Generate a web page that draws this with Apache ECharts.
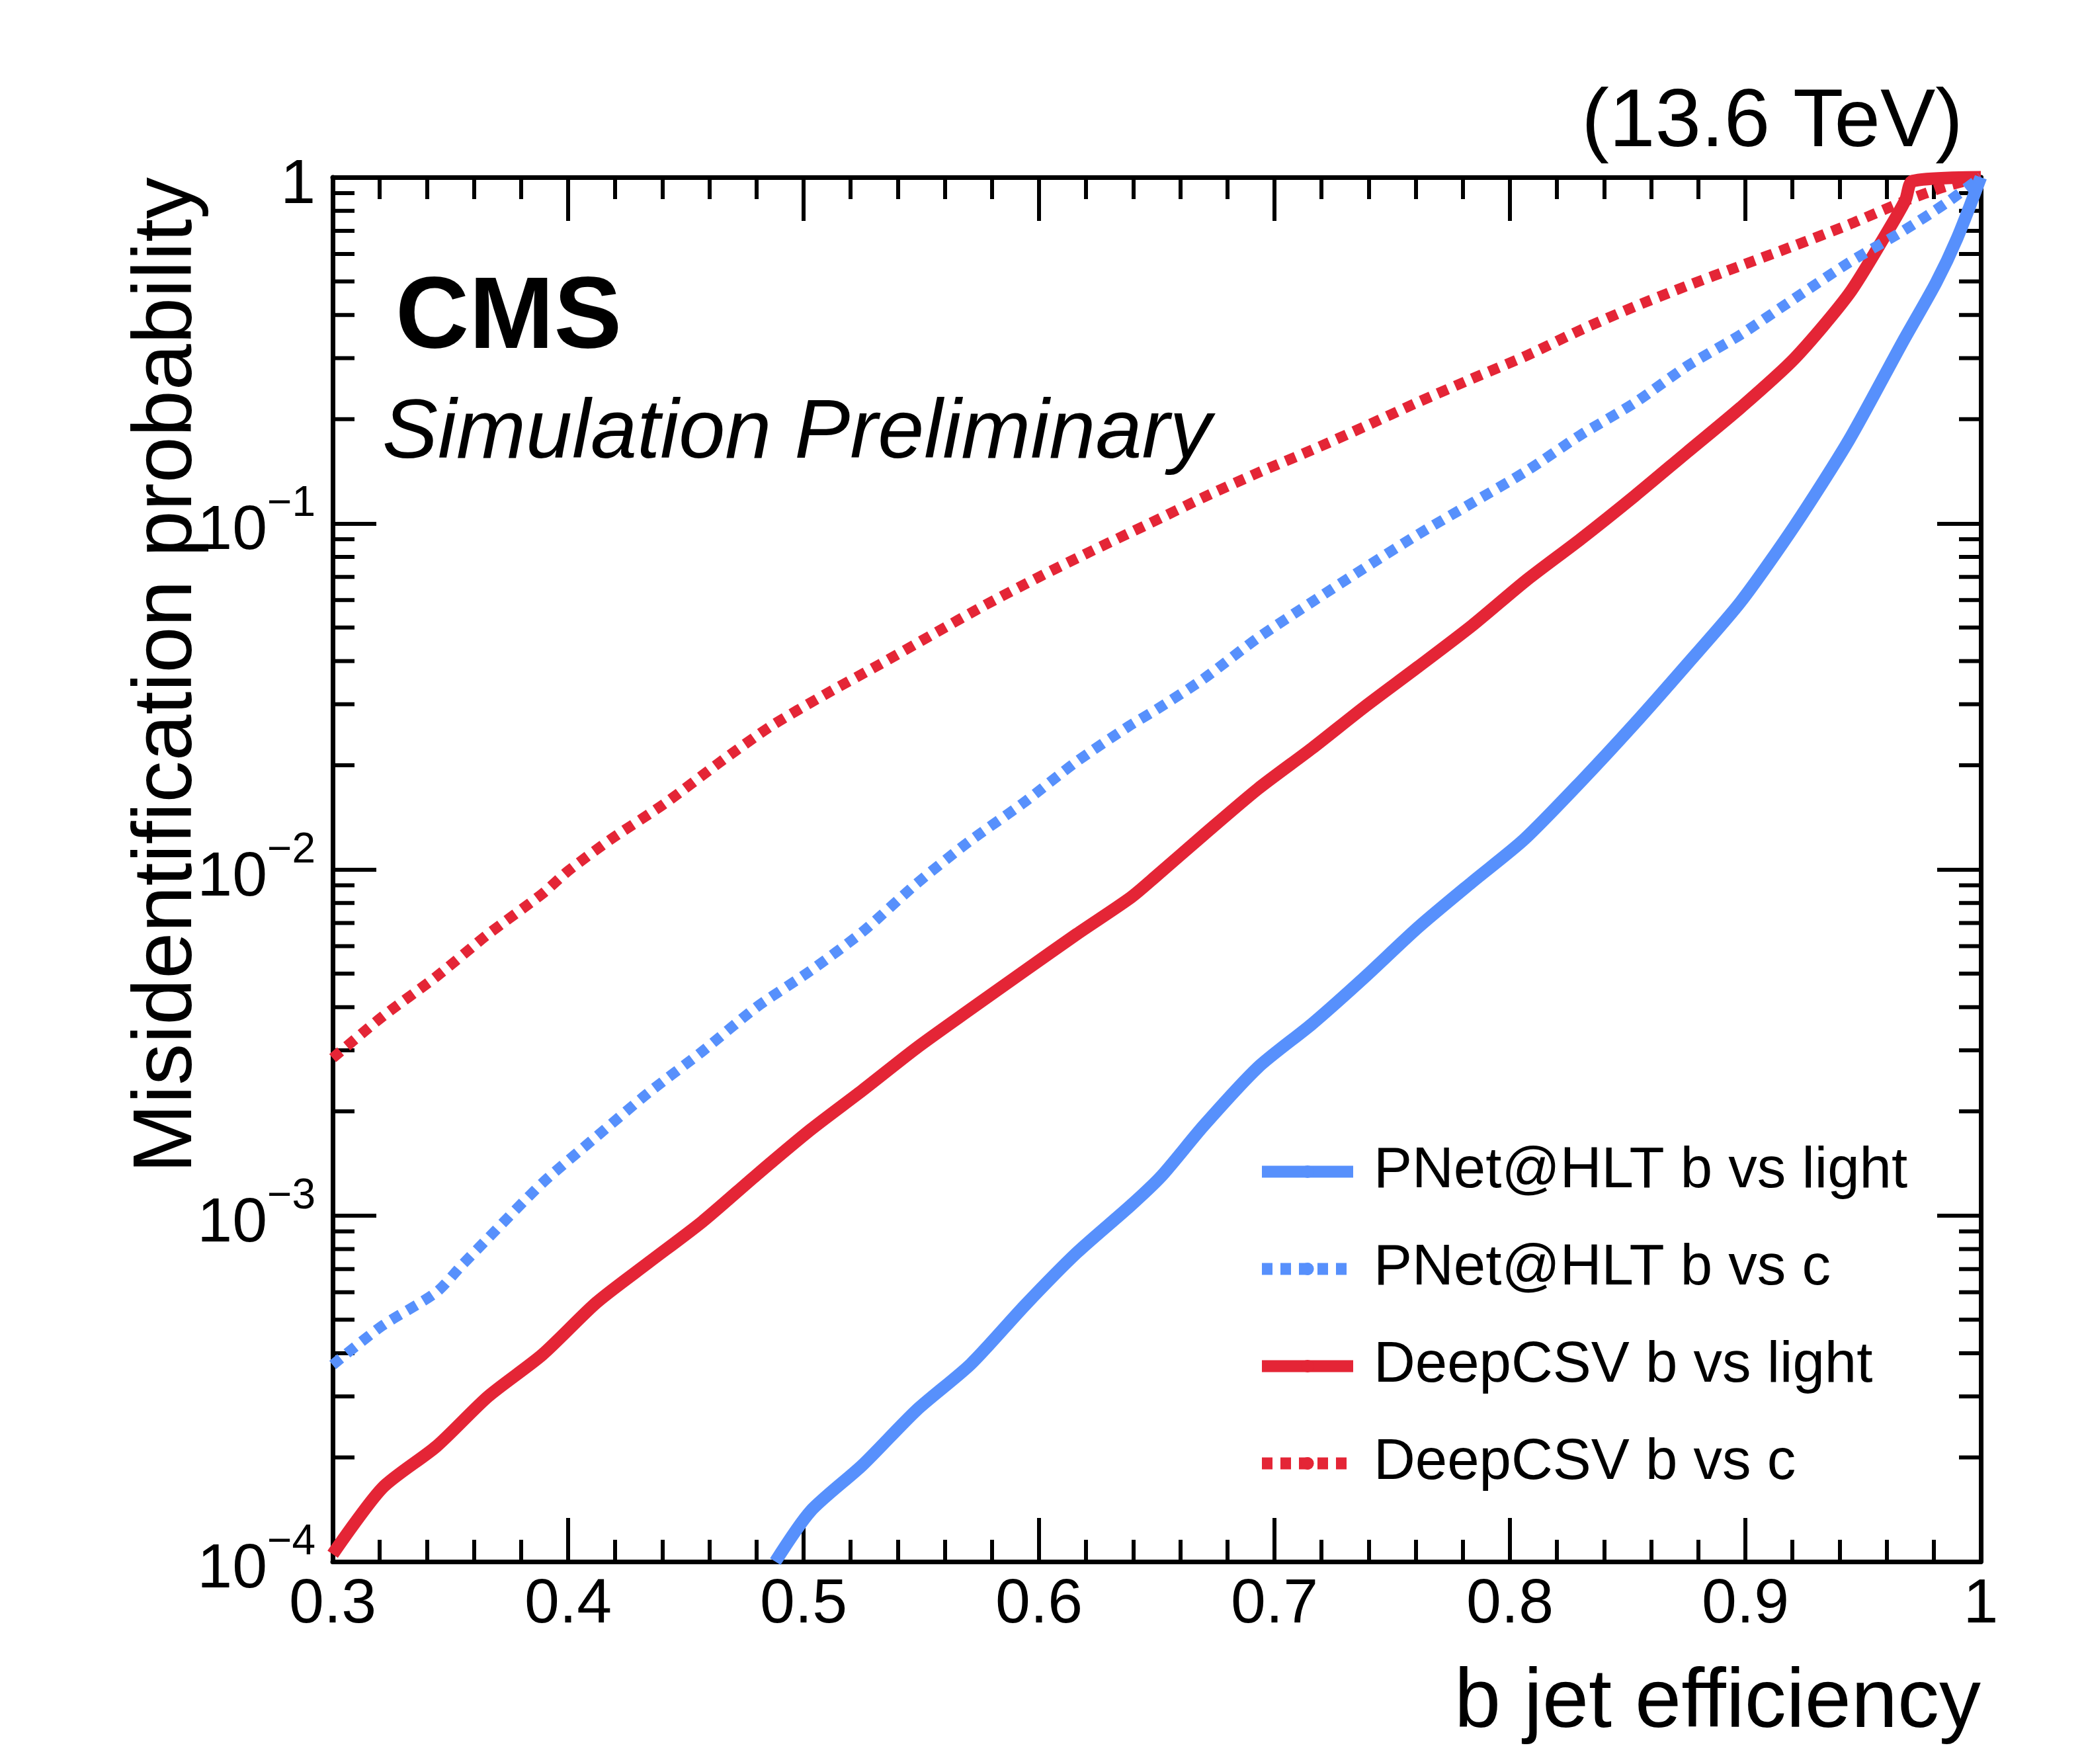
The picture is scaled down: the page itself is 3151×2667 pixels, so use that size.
<!DOCTYPE html>
<html>
<head>
<meta charset="utf-8">
<title>b tagging ROC</title>
<script src="https://cdn.jsdelivr.net/npm/echarts@6.0.0/dist/echarts.min.js"></script>
<style>
  html, body { margin: 0; padding: 0; background: #fff; }
  #chart { width: 3151px; height: 2667px; }
</style>
</head>
<body>
<div id="chart"></div>
<script>
// b jet efficiency / misidentification probability
var pnetLightEff = [0.488, 0.503, 0.525, 0.548, 0.571, 0.594, 0.616, 0.639, 0.652, 0.670, 0.693, 0.716, 0.738, 0.761, 0.784, 0.806, 0.830, 0.853, 0.875, 0.898, 0.921, 0.944, 0.967, 0.981, 0.990, 1.0];
var pnetLightMis = [1.0e-4, 1.40e-4, 1.90e-4, 2.74e-4, 3.72e-4, 5.5e-4, 7.8e-4, 1.07e-3, 1.30e-3, 1.82e-3, 2.68e-3, 3.58e-3, 4.86e-3, 6.8e-3, 9.2e-3, 0.0122, 0.0179, 0.0264, 0.039, 0.0593, 0.0986, 0.174, 0.336, 0.496, 0.668, 1.0];

var pnetCEff = [0.300, 0.321, 0.344, 0.355, 0.366, 0.389, 0.412, 0.434, 0.457, 0.480, 0.503, 0.525, 0.548, 0.570, 0.593, 0.616, 0.638, 0.650, 0.670, 0.693, 0.716, 0.738, 0.761, 0.784, 0.807, 0.830, 0.853, 0.875, 0.898, 0.921, 0.944, 0.967, 0.985, 1.0];
var pnetCMis = [3.7e-4, 4.8e-4, 6.0e-4, 7.2e-4, 8.6e-4, 1.24e-3, 1.69e-3, 2.26e-3, 2.98e-3, 4.0e-3, 5.1e-3, 6.6e-3, 9.1e-3, 0.0120, 0.0155, 0.0205, 0.0259, 0.029, 0.0356, 0.0467, 0.0593, 0.0741, 0.0929, 0.1146, 0.1416, 0.180, 0.223, 0.284, 0.351, 0.447, 0.567, 0.70, 0.84, 1.0];

var deepLightEff = [0.300, 0.321, 0.344, 0.366, 0.389, 0.412, 0.434, 0.457, 0.480, 0.503, 0.525, 0.548, 0.571, 0.594, 0.616, 0.639, 0.650, 0.670, 0.693, 0.716, 0.738, 0.761, 0.784, 0.807, 0.830, 0.853, 0.875, 0.898, 0.921, 0.944, 0.960, 0.968, 0.971, 1.0];
var deepLightMis = [1.05e-4, 1.63e-4, 2.15e-4, 3.0e-4, 3.96e-4, 5.6e-4, 7.3e-4, 9.6e-4, 1.31e-3, 1.77e-3, 2.3e-3, 3.05e-3, 3.95e-3, 5.1e-3, 6.5e-3, 8.3e-3, 9.6e-3, 0.0126, 0.0171, 0.0224, 0.0294, 0.0385, 0.0507, 0.0685, 0.09, 0.12, 0.16, 0.216, 0.30, 0.46, 0.69, 0.86, 0.975, 1.0];

var deepCEff = [0.300, 0.321, 0.344, 0.366, 0.389, 0.400, 0.418, 0.441, 0.464, 0.486, 0.509, 0.532, 0.554, 0.577, 0.600, 0.622, 0.647, 0.670, 0.693, 0.716, 0.738, 0.761, 0.784, 0.807, 0.830, 0.853, 0.875, 0.898, 0.921, 0.944, 0.967, 0.985, 1.0];
var deepCMis = [2.85e-3, 3.75e-3, 4.9e-3, 6.5e-3, 8.5e-3, 9.9e-3, 0.0122, 0.0155, 0.0203, 0.0259, 0.032, 0.0390, 0.0474, 0.0580, 0.0700, 0.0830, 0.1, 0.119, 0.140, 0.163, 0.19, 0.224, 0.262, 0.305, 0.362, 0.423, 0.485, 0.555, 0.635, 0.73, 0.85, 0.94, 1.0];

var seriesNames = ['PNet@HLT b vs light', 'PNet@HLT b vs c', 'DeepCSV b vs light', 'DeepCSV b vs c'];

// minor ticks of the log axis (2..9 in every decade)
var yMinorTicks = [2e-4, 3e-4, 4e-4, 5e-4, 6e-4, 7e-4, 8e-4, 9e-4,
                   2e-3, 3e-3, 4e-3, 5e-3, 6e-3, 7e-3, 8e-3, 9e-3,
                   2e-2, 3e-2, 4e-2, 5e-2, 6e-2, 7e-2, 8e-2, 9e-2,
                   0.2, 0.3, 0.4, 0.5, 0.6, 0.7, 0.8, 0.9];

var BLUE = '#5790fc';
var RED = '#e42536';
var FONT = 'Liberation Sans, Arial, Helvetica, sans-serif';

function pairs(xs, ys) {
    var out = [];
    for (var i = 0; i < xs.length; i++) {
        out.push([xs[i], ys[i]]);
    }
    return out;
}

function curve(name, xs, ys, color, dotted) {
    return {
        name: name,
        type: 'line',
        data: pairs(xs, ys),
        showSymbol: false,
        symbol: 'none',
        smooth: 0.25,
        clip: false,
        z: 5,
        lineStyle: {
            color: color,
            width: dotted ? 16 : 19,
            type: dotted ? [16, 12] : 'solid',
            cap: 'butt',
            join: 'round'
        },
        itemStyle: { color: color }
    };
}

var dom = document.getElementById('chart');
var myChart = echarts.init(dom, null, { renderer: 'canvas' });

var axisLine = { show: true, onZero: false, lineStyle: { color: '#000', width: 7 } };
var majorTick = { show: true, inside: true, length: 66, lineStyle: { color: '#000', width: 6 } };
var minorTick = { show: true, splitNumber: 5, length: 33, lineStyle: { color: '#000', width: 6 } };

var option = {
    animation: false,
    backgroundColor: '#fff',
    grid: {
        left: 503,
        right: 156,
        top: 268,
        bottom: 306,
        containLabel: false,
        outerBoundsMode: 'none'
    },
    legend: {
        orient: 'vertical',
        left: 1894,
        top: 1723,
        itemWidth: 138,
        itemHeight: 24,
        itemGap: 60,
        data: seriesNames,
        textStyle: {
            fontFamily: FONT,
            fontSize: 87,
            color: '#000',
            padding: [0, 0, 0, 26]
        },
        lineStyle: { width: 18 },
        selectedMode: false
    },
    xAxis: [
        {
            type: 'value',
            min: 0.3,
            max: 1,
            interval: 0.1,
            position: 'bottom',
            axisLine: axisLine,
            axisTick: majorTick,
            minorTick: minorTick,
            splitLine: { show: false },
            minorSplitLine: { show: false },
            axisLabel: {
                show: true,
                margin: 18,
                color: '#000',
                fontFamily: FONT,
                fontSize: 95,
                showMinLabel: true,
                showMaxLabel: true,
                hideOverlap: false
            }
        },
        {
            type: 'value',
            min: 0.3,
            max: 1,
            interval: 0.1,
            position: 'top',
            axisLine: axisLine,
            axisTick: majorTick,
            minorTick: minorTick,
            splitLine: { show: false },
            axisLabel: { show: false }
        }
    ],
    yAxis: [
        {
            type: 'log',
            logBase: 10,
            min: 1e-4,
            max: 1,
            position: 'left',
            axisLine: axisLine,
            axisTick: majorTick,
            splitLine: { show: false },
            axisLabel: {
                show: true,
                margin: 26,
                color: '#000',
                fontFamily: FONT,
                showMinLabel: true,
                showMaxLabel: true,
                hideOverlap: false,
                formatter: function (value) {
                    var e = Math.round(Math.log10(value));
                    if (e === 0) {
                        return '{b|1}';
                    }
                    return '{b|10}{s|\u2212' + (-e) + '}';
                },
                rich: {
                    b: { fontFamily: FONT, fontSize: 95, color: '#000', padding: [26, 0, 0, 0] },
                    s: { fontFamily: FONT, fontSize: 64, color: '#000', verticalAlign: 'top' }
                }
            }
        },
        {
            type: 'log',
            logBase: 10,
            min: 1e-4,
            max: 1,
            position: 'right',
            axisLine: axisLine,
            axisTick: majorTick,
            splitLine: { show: false },
            axisLabel: { show: false }
        }
    ],
    graphic: [
        {
            type: 'text', x: 2968, y: 187,
            style: { text: '(13.6 TeV)', fontFamily: FONT, fontSize: 125, fill: '#000', align: 'right', verticalAlign: 'middle' }
        },
        {
            type: 'text', x: 598, y: 484,
            style: { text: 'CMS', fontFamily: FONT, fontWeight: 'bold', fontSize: 154, fill: '#000', align: 'left', verticalAlign: 'middle' }
        },
        {
            type: 'text', x: 578, y: 657,
            style: { text: 'Simulation Preliminary', fontFamily: FONT, fontStyle: 'italic', fontSize: 126, fill: '#000', align: 'left', verticalAlign: 'middle' }
        },
        {
            type: 'text', x: 2995, y: 2576,
            style: { text: 'b jet efficiency', fontFamily: FONT, fontSize: 126, fill: '#000', align: 'right', verticalAlign: 'middle' }
        },
        {
            type: 'text', x: 254, y: 268, rotation: Math.PI / 2,
            style: { text: 'Misidentification probability', fontFamily: FONT, fontSize: 126, fill: '#000', align: 'right', verticalAlign: 'middle' }
        }
    ],
    series: [
        curve(seriesNames[2], deepLightEff, deepLightMis, RED, false),
        curve(seriesNames[3], deepCEff, deepCMis, RED, true),
        curve(seriesNames[0], pnetLightEff, pnetLightMis, BLUE, false),
        curve(seriesNames[1], pnetCEff, pnetCMis, BLUE, true),
        {
            // minor ticks on the left and right log axes
            type: 'custom',
            silent: true,
            clip: false,
            z: 3,
            data: yMinorTicks.map(function (v) { return [0.3, v]; }),
            renderItem: function (params, api) {
                var v = api.value(1);
                var l = api.coord([0.3, v]);
                var r = api.coord([1, v]);
                var st = { stroke: '#000', lineWidth: 6 };
                return {
                    type: 'group',
                    children: [
                        { type: 'line', shape: { x1: l[0], y1: l[1], x2: l[0] + 33, y2: l[1] }, style: st },
                        { type: 'line', shape: { x1: r[0] - 33, y1: r[1], x2: r[0], y2: r[1] }, style: st }
                    ]
                };
            }
        }
    ]
};

myChart.setOption(option);
</script>
</body>
</html>
